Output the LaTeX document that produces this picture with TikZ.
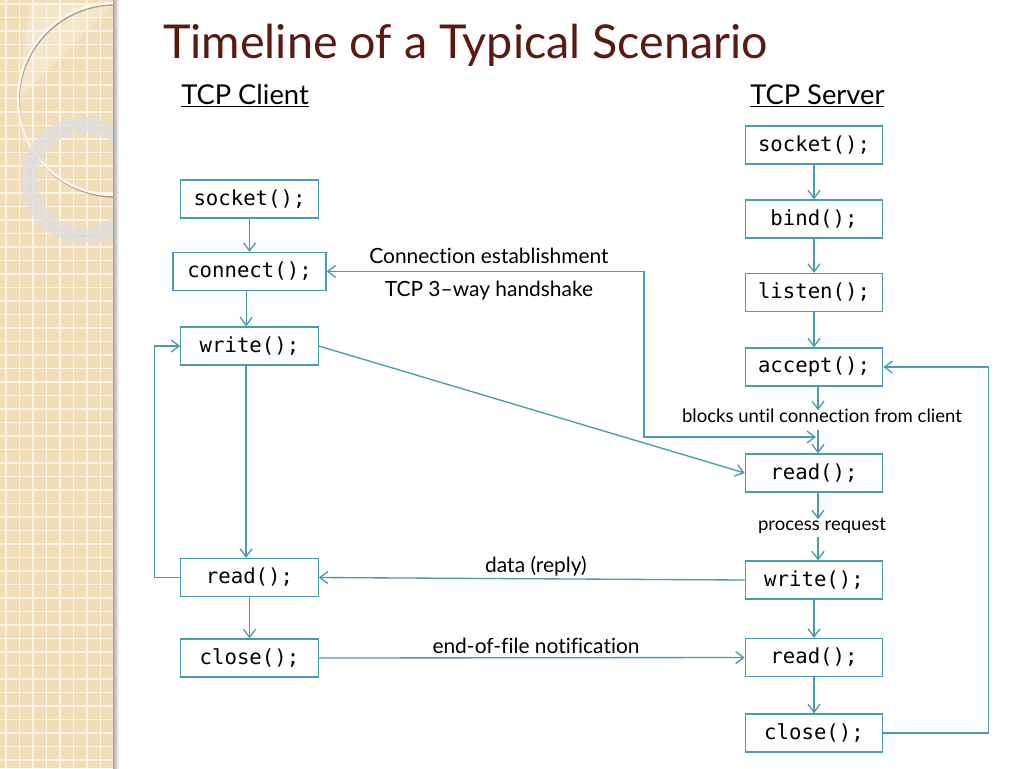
\documentclass[tikz,border=0pt]{standalone}
\usepackage{fontspec}
\setmainfont{Lato}[Ligatures={TeX,NoCommon}]
\newfontfamily\codefont{DejaVu Sans Mono}
\usetikzlibrary{arrows.meta}
\definecolor{ln}{HTML}{4B9BAF}
\definecolor{ttl}{HTML}{5A1A12}
\definecolor{strip}{HTML}{F1DEB8}
\definecolor{gridc}{HTML}{FBF4E4}
\begin{document}
\begin{tikzpicture}[x=0.75pt,y=-0.75pt,
  box/.style={draw=ln,line width=0.9pt,fill=white,minimum height=28.5pt,minimum width=103pt,inner sep=0pt,font=\codefont\fontsize{15.5}{18}\selectfont},
  lbl/.style={font=\fontsize{15.7}{18}\selectfont,inner sep=0pt},
  slbl/.style={font=\fontsize{13.9}{16}\selectfont,inner sep=0pt},
  hdr/.style={font=\fontsize{20.5}{24}\selectfont,inner sep=0pt,anchor=base west},
  arr/.style={draw=ln,line width=1pt,-{Straight Barb[length=6pt,width=9pt]}},
  dblarr/.style={draw=ln,line width=1pt,{Straight Barb[length=6pt,width=9pt]}-{Straight Barb[length=6pt,width=9pt]}},
]
\useasboundingbox (0,0) rectangle (1024,768);
\fill[white] (0,0) rectangle (1024,768);
% decorative strip
\begin{scope}
  \clip (0,0) rectangle (113,768);
  \fill[strip] (0,0) rectangle (113,768);
  \foreach \i in {0,...,8} {\draw[gridc,line width=1.2pt] (\i*13.5+6,0) -- (\i*13.5+6,768);}
  \foreach \j in {0,...,57} {\draw[gridc,line width=1.2pt] (0,\j*13.5+4) -- (113,\j*13.5+4);}
  \fill[white,opacity=0.25] (18,99) -- (114,3) -- (30,3) -- cycle;
  \draw[color=black!60!strip,line width=1pt,opacity=0.5] (115,101) circle[radius=72pt];
  \draw[color=white!80!strip,line width=1.6pt] (114,99) circle[radius=72pt];
  \draw[color=black!25!strip,line width=1pt,opacity=0.5] (85,181) circle[radius=41.25pt];
  \draw[color=white!75!gray,line width=12pt,opacity=0.8] (84,180) circle[radius=41.25pt];
\end{scope}
\shade[left color=black!35,right color=white] (113,0) rectangle (119,768);
% title and headers
\node[anchor=base west,font=\fontsize{35}{42}\selectfont,text=ttl,inner sep=0pt] (title) at (163,58) {Timeline of a Typical Scenario};
\node[hdr] (hc) at (181,104) {\underline{TCP Client}};
\node[hdr] (hs) at (750,104) {\underline{TCP Server}};
% client
\node[box] (cs) at (249.5,199) {socket();};
\node[box,minimum width=114.75pt] (cc) at (249.5,271.5) {connect();};
\node[box] (cw) at (249.5,346) {write();};
\node[box] (cr) at (249.5,577.5) {read();};
\node[box] (cx) at (249.5,658) {close();};
% server
\node[box] (ss) at (814,145) {socket();};
\node[box] (sb) at (814,219) {bind();};
\node[box] (sl) at (814,292.5) {listen();};
\node[box] (sa) at (814,367) {accept();};
\node[box] (sr) at (814,473) {read();};
\node[box] (sw) at (814,580) {write();};
\node[box] (sr2) at (814,657.5) {read();};
\node[box] (sx) at (814,733) {close();};
% labels
\node[slbl] (blk) at (822,416) {blocks until connection from client};
\node[slbl] (proc) at (822,526) {process request};
\node[lbl] (conn) at (489,256) {Connection establishment};
\node[lbl] (hsk) at (489,291) {TCP 3--way handshake};
\node[lbl] (data) at (536,566) {data (reply)};
\node[lbl] (eof) at (536,646) {end-of-file notification};
% client arrows
\draw[arr] (cs) -- (cc);
\draw[arr] ([xshift=-2.5pt]cc.south) -- ([xshift=-2.5pt]cw.north);
\draw[arr] ([xshift=-2.6pt]cw.south) -- ([xshift=-2.6pt]cr.north);
\draw[arr] (cr) -- (cx);
\draw[arr] (cr.west) -- ++(-26,0) |- (cw.west);
% server arrows
\draw[arr] (ss) -- (sb);
\draw[arr] (sb) -- (sl);
\draw[arr] (sl) -- (sa);
\draw[arr] ([xshift=3pt]sa.south) -- ([xshift=3pt,yshift=-1pt]sa.south |- blk.north);
\draw[arr] ([xshift=3pt,yshift=-5pt]sr.north |- blk.south) -- ([xshift=3pt]sr.north);
\draw[arr] ([xshift=3pt]sr.south) -- ([xshift=3pt,yshift=-1pt]sr.south |- proc.north);
\draw[arr] ([xshift=3pt,yshift=-2pt]sw.north |- proc.south) -- ([xshift=3pt]sw.north);
\draw[arr] (sw) -- (sr2);
\draw[arr] (sr2) -- (sx);
\draw[arr] (sx.east) -- ++(105,0) |- (sa.east);
% between
\coordinate (hsend) at (816,437);
\draw[dblarr] (cc.east) -- (644,271.5) -- (644,437) -- (hsend);
\draw[arr] (cw.east) -- (sr.west);
\draw[arr] (sw.west) -- (cr.east);
\draw[arr] (cx.east) -- (sr2.west);
\end{tikzpicture}
\end{document}
